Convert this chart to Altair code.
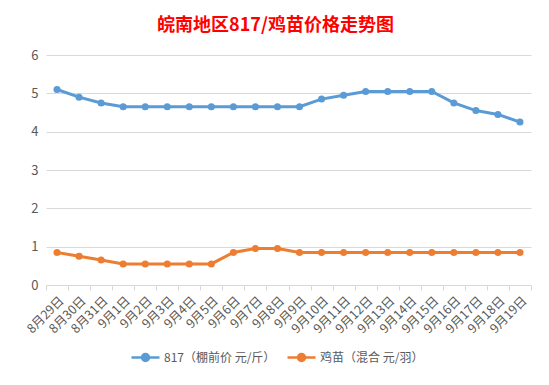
import altair as alt
import pandas as pd

dates = ["8月29日", "8月30日", "8月31日", "9月1日", "9月2日", "9月3日", "9月4日",
         "9月5日", "9月6日", "9月7日", "9月8日", "9月9日", "9月10日", "9月11日",
         "9月12日", "9月13日", "9月14日", "9月15日", "9月16日", "9月17日",
         "9月18日", "9月19日"]
s1 = "817（棚前价 元/斤）"
s2 = "鸡苗（混合 元/羽）"
blue = [5.1, 4.9, 4.75, 4.65, 4.65, 4.65, 4.65, 4.65, 4.65, 4.65, 4.65, 4.65,
        4.85, 4.95, 5.05, 5.05, 5.05, 5.05, 4.75, 4.55, 4.45, 4.25]
orange = [0.85, 0.75, 0.65, 0.55, 0.55, 0.55, 0.55, 0.55, 0.85, 0.95, 0.95, 0.85,
          0.85, 0.85, 0.85, 0.85, 0.85, 0.85, 0.85, 0.85, 0.85, 0.85]
y_ticks = [0, 1, 2, 3, 4, 5, 6]
colors = ["#5B9BD5", "#ED7D31"]

df = pd.DataFrame({
    "date": dates + dates,
    "value": blue + orange,
    "series": [s1] * len(dates) + [s2] * len(dates),
})

FONT = "Noto Sans CJK SC"
GRAY = "#595959"

legend_symbol = "M-1,0L1,0M-0.25,0A0.25,0.25,0,1,1,0.25,0A0.25,0.25,0,1,1,-0.25,0Z"

base = alt.Chart(df).encode(
    x=alt.X("date:N", sort=dates,
            scale=alt.Scale(type="band", paddingInner=0, paddingOuter=0),
            bandPosition=0.5,
            axis=alt.Axis(title=None, labelAngle=-45, tickBand="extent", grid=False,
                          domainColor="#D9D9D9", tickColor="#D9D9D9", tickSize=5,
                          labelColor=GRAY, labelFontSize=12.5, labelFont=FONT,
                          labelPadding=4)),
    y=alt.Y("value:Q", scale=alt.Scale(domain=[0, 6]),
            axis=alt.Axis(title=None, values=y_ticks, domain=False, ticks=False,
                          gridColor="#D9D9D9", labelColor=GRAY, labelFontSize=13,
                          labelFont=FONT, labelPadding=8)),
    color=alt.Color("series:N", sort=[s1, s2],
                    scale=alt.Scale(domain=[s1, s2], range=colors),
                    legend=alt.Legend(title=None, orient="none", legendX=84, legendY=287,
                                      direction="horizontal", symbolType=legend_symbol,
                                      symbolSize=784, symbolStrokeWidth=2.5,
                                      labelFont=FONT, labelFontSize=12, labelColor=GRAY,
                                      labelOffset=3, columnPadding=6)),
)

line = base.mark_line(strokeWidth=3)
pts = base.mark_circle(size=50, opacity=1)

chart = (line + pts).properties(
    width=485, height=230,
    autosize=alt.AutoSizeParams(type="none"),
    padding={"left": 38, "top": 47, "right": 10, "bottom": 92},
    title=alt.TitleParams("皖南地区817/鸡苗价格走势图", fontSize=18, fontWeight="bold",
                          color="#FF0000", font=FONT, anchor="middle", dx=-13, offset=14),
).configure_view(strokeWidth=0)

chart.save("out.html", embed_options={"renderer": "svg", "actions": False})
